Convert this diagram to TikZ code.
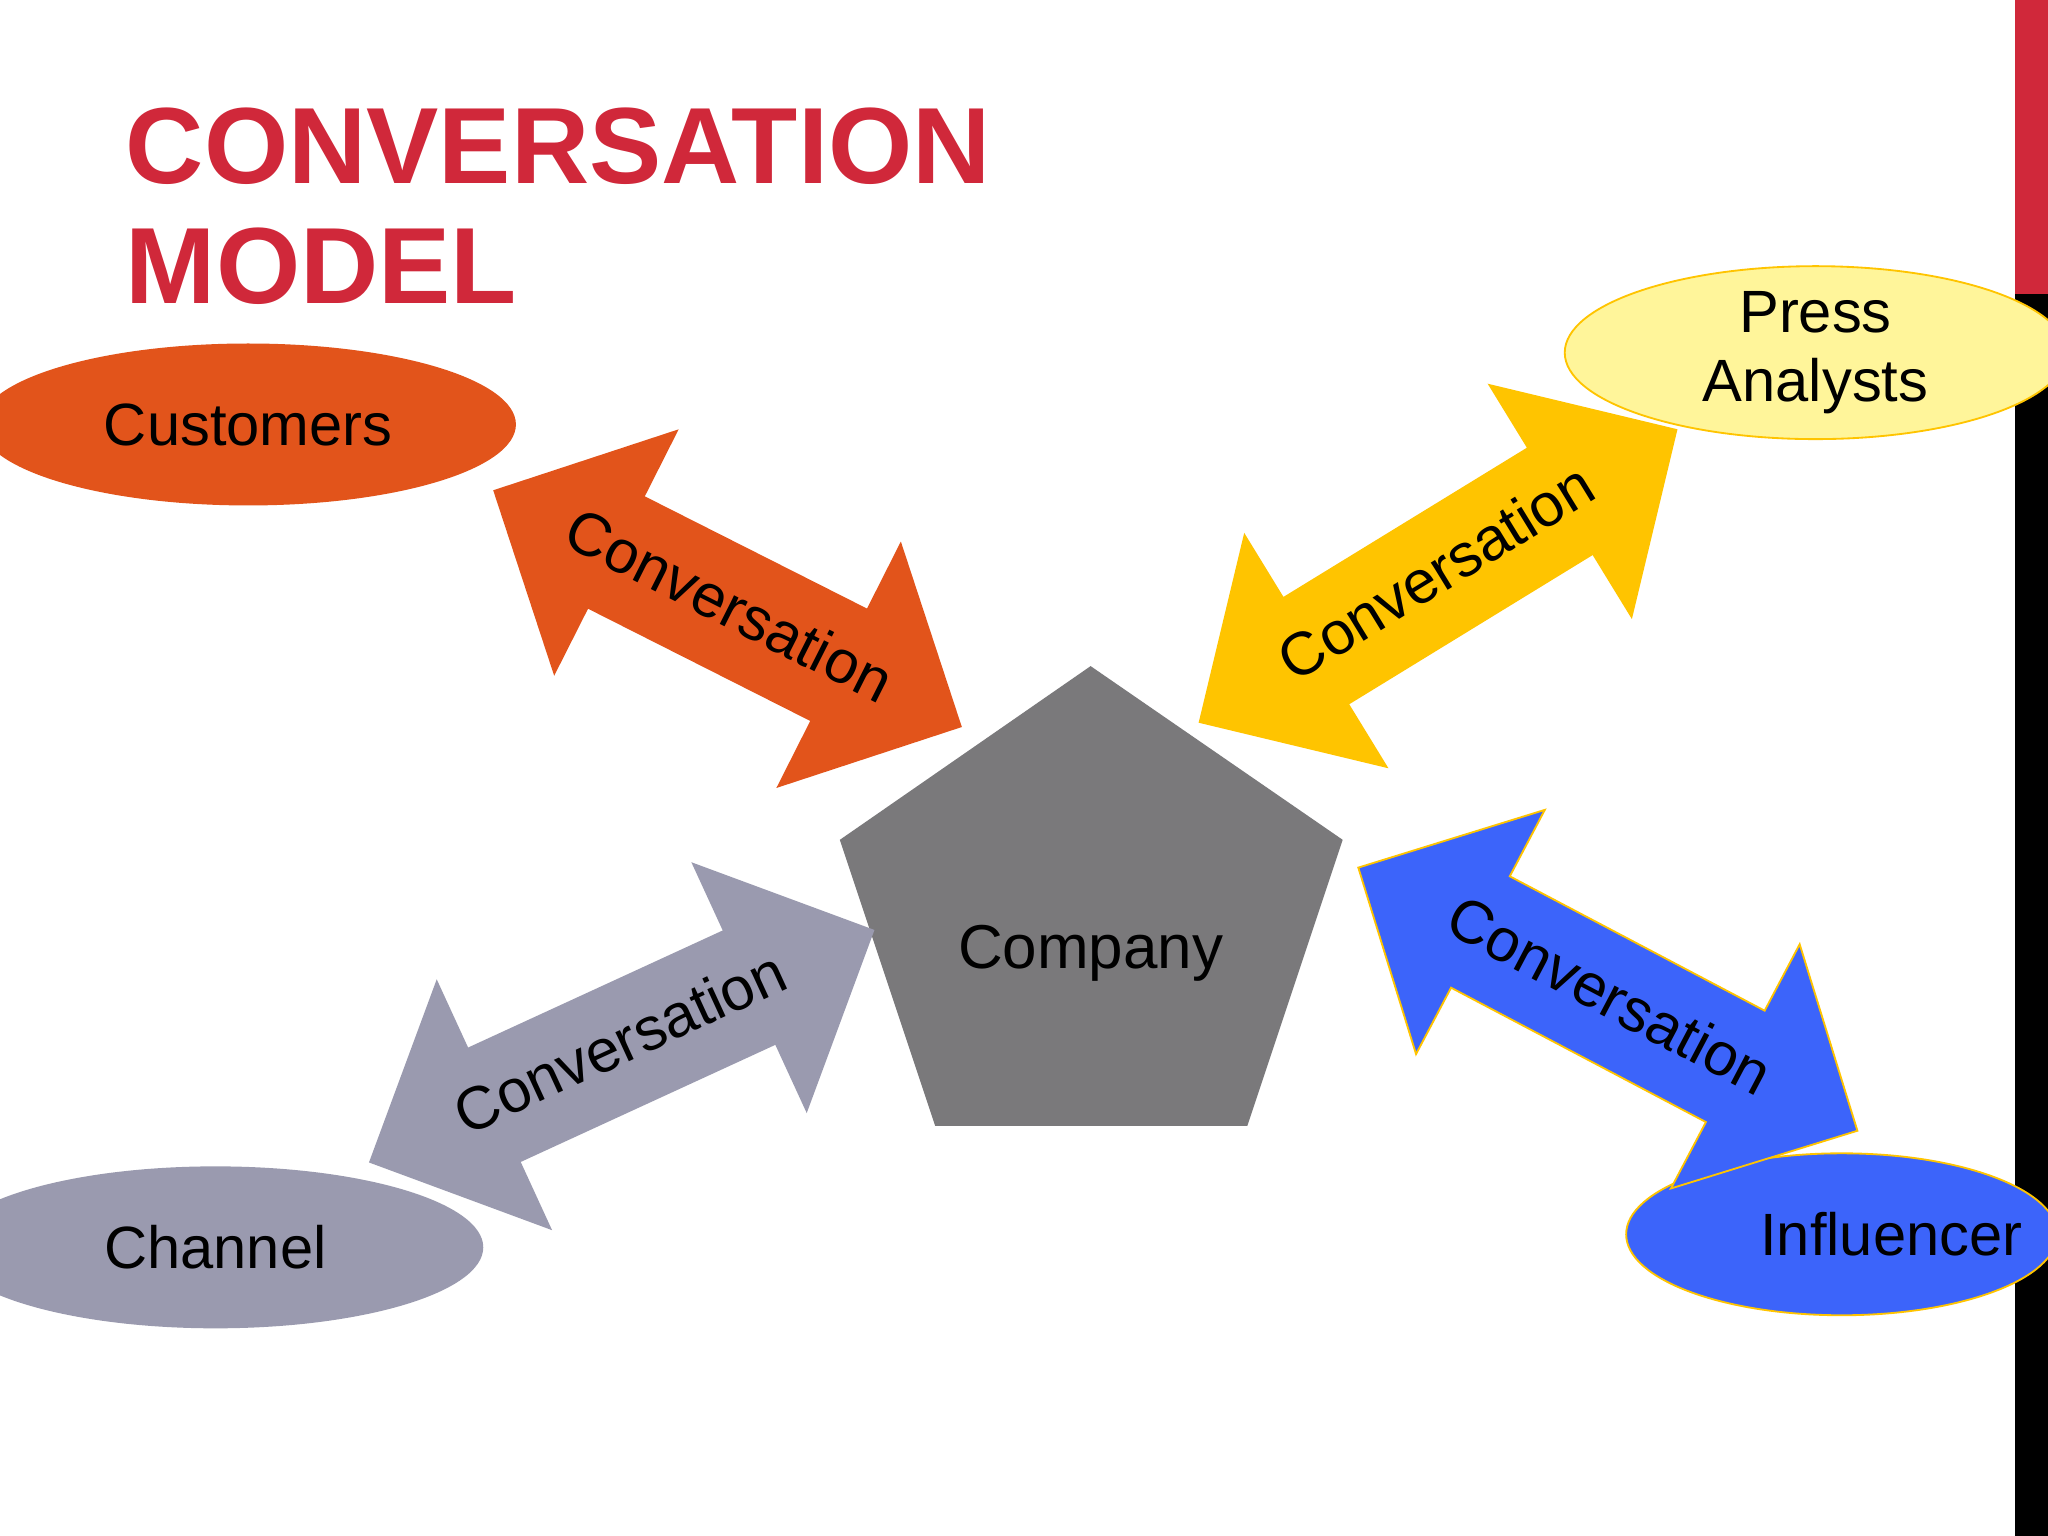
\documentclass[tikz,border=0pt]{standalone}
\usepackage{fontspec}
\setmainfont{Liberation Sans}
\usetikzlibrary{shapes.geometric,shapes.arrows}
\definecolor{titlered}{HTML}{D0283A}
\definecolor{custorange}{HTML}{E2541B}
\definecolor{pressyellow}{HTML}{FFF59A}
\definecolor{convyellow}{HTML}{FFC400}
\definecolor{chgrey}{HTML}{9A9AAF}
\definecolor{inflblue}{HTML}{3C64FA}
\definecolor{compgrey}{HTML}{7A797B}
\tikzset{
  party/.style={ellipse, inner sep=0pt, font=\fontsize{13}{15}\selectfont},
  conv/.style={double arrow, double arrow head extend=0.575cm, double arrow tip angle=90,
    inner xsep=0pt, inner ysep=0.245cm, text height=0.36cm, text depth=0.1cm,
    font=\fontsize{13.2}{16}\selectfont}
}
\begin{document}
\begin{tikzpicture}
\useasboundingbox (0,0) rectangle (15.68,-11.76);
\fill[white] (0,0) rectangle (15.68,-11.76);
% side bar
\fill[titlered] (15.43,0) rectangle (15.68,-2.25);
\fill[black] (15.43,-2.25) rectangle (15.68,-11.76);

\node[anchor=west, text=titlered, font=\fontsize{23.6}{26}\selectfont\bfseries, align=left] (title) at (0.84,-1.58) {CONVERSATION\\MODEL};

% parties
\node[party, fill=custorange, minimum width=4.1cm, minimum height=1.24cm] (cust) at (1.90,-3.25) {};
\node[font=\fontsize{13}{15}\selectfont] at (1.90,-3.25) {Customers};
\node[party, fill=pressyellow, draw=convyellow, minimum width=3.84cm, minimum height=1.24cm, align=center] (press) at (13.90,-2.70) {Press\\Analysts};
\node[party, fill=chgrey, minimum width=4.1cm, minimum height=1.24cm] (chan) at (1.65,-9.55) {Channel};
\node[party, fill=inflblue, draw=convyellow, minimum width=3.3cm, minimum height=1.24cm] (infl) at (14.10,-9.45) {};
\node[font=\fontsize{13}{15}\selectfont] at (14.48,-9.45) {Influencer};

% company
\fill[compgrey] (8.35,-5.10) -- (10.28,-6.43) -- (9.55,-8.62) -- (7.16,-8.62) -- (6.43,-6.43) -- cycle;
\node[font=\fontsize{13.5}{16}\selectfont] (comp) at (8.35,-7.30) {Company};

% conversation arrows
\node[conv, fill=custorange, minimum height=4.02cm, rotate=-26.8] (a1) at (5.57,-4.66) {Conversation};
\node[conv, fill=convyellow, minimum height=4.30cm, rotate=31.5] (a2) at (11.01,-4.41) {Conversation};
\node[conv, fill=chgrey, minimum height=4.26cm, rotate=24.7] (a3) at (4.76,-8.01) {Conversation};
\node[conv, fill=inflblue, draw=convyellow, minimum height=4.32cm, rotate=-27.8] (a4) at (12.31,-7.65) {Conversation};
\end{tikzpicture}
\end{document}
